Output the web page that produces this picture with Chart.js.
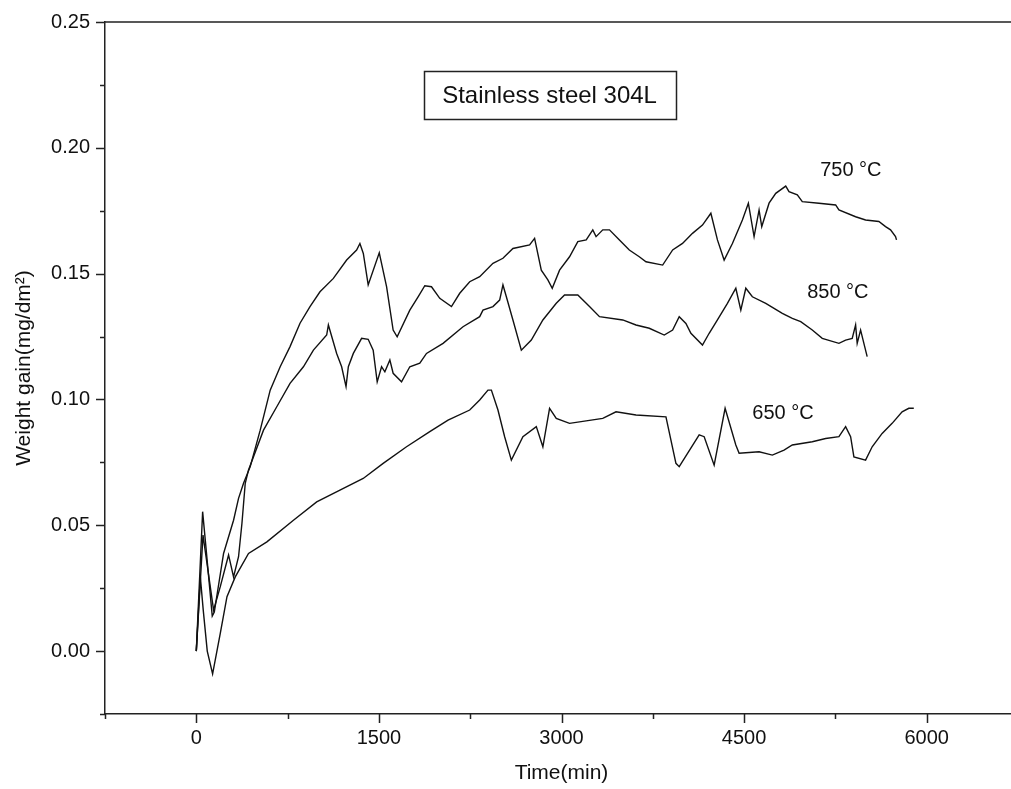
<!DOCTYPE html>
<html>
<head>
<meta charset="utf-8">
<script src="https://cdn.jsdelivr.net/npm/chart.js@4.4.1/dist/chart.umd.min.js"></script>
<style>
html, body { margin: 0; padding: 0; background: #fff; overflow: hidden; }
#wrap { width: 1021px; height: 789px; }
</style>
</head>
<body>
<div id="wrap"><canvas id="chart" width="1021" height="789"></canvas></div>
<script>
// weight gain curves of stainless steel 304L
var time750 = [0, 52, 74, 131, 148, 224, 306, 347, 388, 443, 525, 607, 689, 770, 852, 934, 1016, 1126, 1235, 1317,
    1344, 1372, 1412, 1503, 1563, 1617, 1650, 1754, 1822, 1877, 1932, 2000, 2096, 2164, 2246, 2328, 2437, 2519, 2601, 2738,
    2779, 2834, 2888, 2924, 2984, 3066, 3134, 3203, 3257, 3284, 3339, 3394, 3476, 3557, 3639, 3694, 3831, 3913, 3994, 4076,
    4158, 4227, 4281, 4336, 4404, 4486, 4535, 4582, 4623, 4645, 4705, 4760, 4842, 4869, 4937, 4978, 5115, 5252, 5279, 5416,
    5498, 5607, 5662, 5703, 5744, 5752];
var gain750 = [0, 0.0554, 0.044, 0.0139, 0.0155, 0.0388, 0.052, 0.0607, 0.0667, 0.0733, 0.0878, 0.1037, 0.113, 0.121, 0.1303, 0.1369, 0.1428, 0.1481, 0.1554, 0.1594,
    0.162, 0.158, 0.1455, 0.1583, 0.1448, 0.1276, 0.1249, 0.1355, 0.1408, 0.1452, 0.1448, 0.1402, 0.1369, 0.1422, 0.1468, 0.1488, 0.1541, 0.1561, 0.16, 0.1614,
    0.164, 0.1514, 0.1475, 0.1442, 0.1514, 0.1567, 0.1627, 0.1634, 0.1674, 0.1647, 0.1674, 0.1674, 0.1634, 0.1594, 0.1567, 0.1547, 0.1534, 0.1594, 0.162, 0.166,
    0.1693, 0.174, 0.1634, 0.1554, 0.162, 0.1713, 0.178, 0.1647, 0.1753, 0.1687, 0.178, 0.1819, 0.1848, 0.1826, 0.1813, 0.1786, 0.178, 0.1773, 0.1753, 0.1726,
    0.1713, 0.1707, 0.1687, 0.1674, 0.1647, 0.1634];

var time850 = [0, 55, 142, 197, 265, 306, 347, 375, 402, 429, 552, 661, 770, 880, 962, 1071, 1085, 1153, 1194, 1230,
    1249, 1290, 1358, 1412, 1453, 1486, 1522, 1549, 1590, 1617, 1686, 1754, 1836, 1891, 2027, 2191, 2328, 2355, 2437, 2492,
    2519, 2547, 2601, 2670, 2752, 2847, 2957, 3025, 3134, 3230, 3312, 3503, 3612, 3721, 3844, 3913, 3967, 4022, 4063, 4158,
    4213, 4281, 4363, 4432, 4473, 4514, 4568, 4678, 4746, 4814, 4896, 4965, 5060, 5142, 5279, 5334, 5388, 5416, 5429, 5457,
    5484, 5511];
var gain850 = [0, 0.0461, 0.0163, 0.0256, 0.0382, 0.0295, 0.0375, 0.0508, 0.0667, 0.072, 0.0878, 0.0971, 0.1064, 0.113, 0.1196, 0.1256, 0.1296, 0.1183, 0.113, 0.1051,
    0.113, 0.1183, 0.1243, 0.1239, 0.1196, 0.107, 0.113, 0.111, 0.1157, 0.1104, 0.107, 0.113, 0.1144, 0.1183, 0.1223, 0.1289, 0.1329, 0.1355, 0.1369, 0.1395,
    0.1455, 0.1408, 0.1316, 0.1196, 0.1236, 0.1316, 0.1382, 0.1415, 0.1415, 0.1369, 0.1329, 0.1316, 0.1296, 0.1283, 0.1256, 0.1276, 0.1329, 0.1302, 0.1263, 0.1216,
    0.1263, 0.1316, 0.1382, 0.1442, 0.1355, 0.1442, 0.1408, 0.1382, 0.1362, 0.1342, 0.1322, 0.1309, 0.1276, 0.1243, 0.1223, 0.1236, 0.1243, 0.1296, 0.1223, 0.1276,
    0.1223, 0.117];

var time650 = [0, 33, 57, 90, 134, 197, 252, 320, 429, 580, 798, 989, 1180, 1371, 1535, 1727, 1918, 2068, 2246, 2328,
    2396, 2424, 2478, 2533, 2588, 2683, 2793, 2847, 2902, 2957, 3066, 3339, 3448, 3612, 3858, 3940, 3967, 4131, 4172, 4254,
    4344, 4432, 4459, 4623, 4732, 4828, 4896, 5060, 5170, 5279, 5334, 5375, 5402, 5498, 5552, 5634, 5716, 5798, 5853, 5894];
var gain650 = [0, 0.0295, 0.0163, 0, -0.0091, 0.007, 0.0216, 0.0295, 0.0388, 0.0434, 0.052, 0.0593, 0.064, 0.0686, 0.0746, 0.0812, 0.0872, 0.0918, 0.0958, 0.0998,
    0.1037, 0.1037, 0.0958, 0.0852, 0.0759, 0.0852, 0.0892, 0.0812, 0.0965, 0.0925, 0.0905, 0.0925, 0.0951, 0.0938, 0.0931, 0.0746, 0.0733, 0.0859, 0.0852, 0.0739,
    0.0965, 0.0819, 0.0786, 0.0792, 0.0779, 0.0799, 0.0819, 0.0832, 0.0845, 0.0852, 0.0892, 0.0852, 0.0772, 0.0759, 0.0812, 0.0865, 0.0905, 0.0951, 0.0965, 0.0965];

// curve names and where they are written (time, gain)
var curveLabels = ['750 \u00B0C', '850 \u00B0C', '650 \u00B0C'];
var labelTimes = [5377, 5270, 4820];
var labelGains = [0.1908, 0.1427, 0.0946];
var boxText = 'Stainless steel 304L';
var boxTime = 2902;
var boxGain = 0.221;

var xTitle = 'Time(min)';
var yTitle = 'Weight gain(mg/dm\u00B2)';

var fontFamily = '"Liberation Sans", Arial, Helvetica, sans-serif';
var ink = '#111';

var toPoints = function (times, gains) {
    var pts = [];
    for (let i = 0; i < times.length; i++) {
        pts.push({x: times[i], y: gains[i]});
    }
    return pts;
};

var isMajorX = function (v) { return Math.round(v) % 1500 === 0; };
var isMajorY = function (v) { return Math.round(v * 1000) % 50 === 0; };

var lineStyle = {
    borderColor: ink,
    borderWidth: 1.4,
    pointRadius: 0,
    tension: 0,
    fill: false
};

// ticks, top border, curve labels and the framed caption
var decorPlugin = {
    id: 'decor',
    afterDraw: function (chart) {
        let ctx = chart.ctx;
        let xs = chart.scales.x;
        let ys = chart.scales.y;
        let area = chart.chartArea;
        ctx.save();
        ctx.strokeStyle = '#222';
        ctx.lineWidth = 1.5;
        ctx.beginPath();
        ctx.moveTo(area.left, area.top);
        ctx.lineTo(area.right, area.top);
        xs.ticks.forEach(function (t) {
            let px = Math.round(xs.getPixelForValue(t.value)) + 0.5;
            let len = isMajorX(t.value) ? 9 : 5;
            ctx.moveTo(px, area.bottom);
            ctx.lineTo(px, area.bottom + len);
        });
        ys.ticks.forEach(function (t) {
            let py = Math.round(ys.getPixelForValue(t.value)) + 0.5;
            let len = isMajorY(t.value) ? 9 : 5;
            ctx.moveTo(area.left, py);
            ctx.lineTo(area.left - len, py);
        });
        ctx.stroke();

        ctx.fillStyle = ink;
        ctx.textAlign = 'center';
        ctx.textBaseline = 'middle';
        ctx.font = '20px ' + fontFamily;
        for (let i = 0; i < curveLabels.length; i++) {
            ctx.fillText(curveLabels[i], xs.getPixelForValue(labelTimes[i]), ys.getPixelForValue(labelGains[i]));
        }

        ctx.font = '24px ' + fontFamily;
        let cx = xs.getPixelForValue(boxTime);
        let cy = ys.getPixelForValue(boxGain);
        let w = ctx.measureText(boxText).width + 37;
        let h = 48;
        ctx.lineWidth = 1.5;
        ctx.strokeRect(Math.round(cx - w / 2) + 0.5, Math.round(cy - h / 2) + 0.5, Math.round(w), h);
        ctx.fillText(boxText, cx, cy + 1);
        ctx.restore();
    }
};

new Chart('chart', {
    type: 'line',
    data: {
        datasets: [
            Object.assign({label: curveLabels[0], data: toPoints(time750, gain750)}, lineStyle),
            Object.assign({label: curveLabels[1], data: toPoints(time850, gain850)}, lineStyle),
            Object.assign({label: curveLabels[2], data: toPoints(time650, gain650)}, lineStyle)
        ]
    },
    options: {
        responsive: false,
        animation: false,
        devicePixelRatio: 1,
        layout: {padding: {top: 22, right: 0, bottom: 0, left: 0}},
        plugins: {
            legend: {display: false},
            tooltip: {enabled: false}
        },
        scales: {
            x: {
                type: 'linear',
                min: -750,
                max: 6750,
                ticks: {
                    stepSize: 750,
                    includeBounds: false,
                    autoSkip: false,
                    maxRotation: 0,
                    padding: 3,
                    color: ink,
                    font: {family: fontFamily, size: 20},
                    callback: function (v) { return (isMajorX(v) && v >= 0) ? String(Math.round(v)) : ''; }
                },
                grid: {display: true, drawOnChartArea: false, drawTicks: true, tickLength: 9, tickColor: 'rgba(0,0,0,0)'},
                border: {display: true, color: '#222', width: 1.5},
                title: {
                    display: true,
                    text: xTitle,
                    color: ink,
                    font: {family: fontFamily, size: 21},
                    padding: {top: 0, bottom: 3}
                },
                afterFit: function (s) { s.height = 75; }
            },
            y: {
                type: 'linear',
                min: -0.025,
                max: 0.25,
                ticks: {
                    stepSize: 0.025,
                    includeBounds: false,
                    autoSkip: false,
                    padding: 6,
                    color: ink,
                    font: {family: fontFamily, size: 20},
                    callback: function (v) {
                        if (!isMajorY(v)) return '';
                        return (Math.abs(v) < 1e-9 ? 0 : v).toFixed(2);
                    }
                },
                grid: {display: true, drawOnChartArea: false, drawTicks: true, tickLength: 9, tickColor: 'rgba(0,0,0,0)'},
                border: {display: true, color: '#222', width: 1.5},
                title: {
                    display: true,
                    text: yTitle,
                    color: ink,
                    font: {family: fontFamily, size: 21},
                    padding: {top: 12, bottom: 0}
                },
                afterFit: function (s) { s.width = 105; }
            }
        }
    },
    plugins: [decorPlugin]
});
</script>
</body>
</html>
